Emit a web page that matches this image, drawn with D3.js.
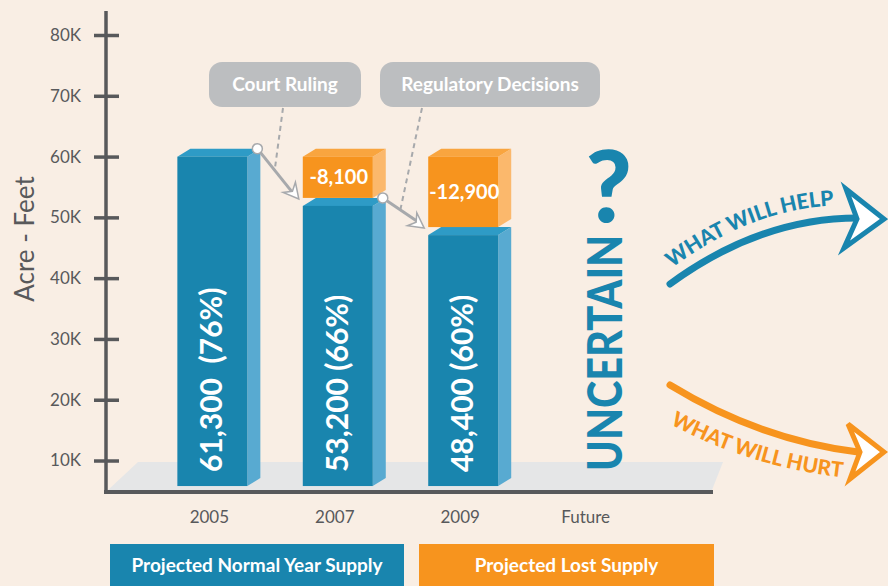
<!DOCTYPE html>
<html lang="en">
<head>
    <meta charset="UTF-8">
    <title>Projected Water Supply</title>
    <script src="https://cdn.jsdelivr.net/npm/d3@7"></script>
    <style>
        body{ margin:0; background:#f9eee4; }
        svg{ display:block; font-family: Lato, "Open Sans", sans-serif; }
    </style>
</head>
<body>
<script>

    // chart values
    const categories = ["2005", "2007", "2009", "Future"]
    const normalSupply = [61300, 53200, 48400]
    const lostSupply = [0, 8100, 12900]
    const normalShare = [76, 66, 60]
    const tickValues = [10000, 20000, 30000, 40000, 50000, 60000, 70000, 80000]
    const tickLabels = ["10K", "20K", "30K", "40K", "50K", "60K", "70K", "80K"]
    const calloutLabels = ["Court Ruling", "Regulatory Decisions"]
    const legendLabels = ["Projected Normal Year Supply", "Projected Lost Supply"]
    const outlookLabels = ["WHAT WILL HELP", "WHAT WILL HURT"]

    const colors = {
        bg: "#f9eee4", axis: "#58595b", floor: "#e5e6e7", callout: "#bcbec0", arrow: "#a7a9ac",
        blue: "#1985ae", blueTop: "#2e9bc6", blueSide: "#58aad1",
        orange: "#f7941e", orangeTop: "#f9a53f", orangeSide: "#fbb86c"
    }

    const svgSize = {width: 888, height: 586}
    const depth = {dx: 13, dy: 8}
    const floorValue = 5800

    const svg = d3.select("body").append("svg")
        .attr("width", svgSize.width)
        .attr("height", svgSize.height)
    svg.append("rect").attr("width", svgSize.width).attr("height", svgSize.height).attr("fill", colors.bg)

    const y = d3.scaleLinear().domain([0, 80000]).range([521.3, 35])
    const x = d3.scaleBand().domain(categories).range([146, 655]).paddingInner(0.442).paddingOuter(0.25)

    // floor
    svg.append("polygon")
        .attr("points", [[138, 462], [723, 462], [712, 490], [108, 490]].join(" "))
        .attr("fill", colors.floor)

    // y axis
    const yAxis = d3.axisLeft(y)
        .tickValues(tickValues)
        .tickFormat((d, i) => tickLabels[i])
        .tickSizeInner(0)
        .tickPadding(25)
    const axisG = svg.append("g").attr("transform", "translate(106,0)").call(yAxis)
    axisG.select(".domain").remove()
    axisG.selectAll(".tick line")
        .attr("x1", -12).attr("x2", 13)
        .attr("stroke", colors.axis).attr("stroke-width", 3.5)
    axisG.selectAll(".tick text")
        .attr("fill", colors.axis).attr("font-size", 17).attr("font-family", "Lato, sans-serif")
    svg.append("line").attr("x1", 106).attr("x2", 106).attr("y1", 11).attr("y2", 494)
        .attr("stroke", colors.axis).attr("stroke-width", 3.5)
    svg.append("line").attr("x1", 104).attr("x2", 713).attr("y1", 492).attr("y2", 492)
        .attr("stroke", colors.axis).attr("stroke-width", 4)

    svg.append("text")
        .attr("transform", "translate(34,239) rotate(-90)")
        .attr("text-anchor", "middle")
        .attr("fill", colors.axis)
        .attr("font-size", 26)
        .text("Acre - Feet")

    // year labels
    svg.selectAll(".year").data(categories).enter().append("text")
        .attr("x", d => x(d) + x.bandwidth() / 2 - 3)
        .attr("y", 523)
        .attr("text-anchor", "middle")
        .attr("fill", colors.axis)
        .attr("font-size", 17)
        .text(d => d)

    // a 3d block: back edges follow the scale, front face shifted down-left
    function block(g, x0, w, backTop, backBottom, front, top, side){
        const {dx, dy} = depth
        g.append("polygon")
            .attr("points", [[x0 + w, backTop + dy], [x0 + w + dx, backTop], [x0 + w + dx, backBottom], [x0 + w, backBottom + dy]].join(" "))
            .attr("fill", side)
        g.append("polygon")
            .attr("points", [[x0, backTop + dy], [x0 + dx, backTop], [x0 + w + dx, backTop], [x0 + w, backTop + dy]].join(" "))
            .attr("fill", top)
        g.append("rect")
            .attr("x", x0).attr("y", backTop + dy)
            .attr("width", w).attr("height", backBottom - backTop)
            .attr("fill", front)
    }

    const fmt = d3.format(",")
    const bw = x.bandwidth()
    const bars = svg.append("g")

    normalSupply.forEach((v, i) => {
        const x0 = x(categories[i])
        block(bars, x0, bw, y(v), y(floorValue) - depth.dy, colors.blue, colors.blueTop, colors.blueSide)
        bars.append("text")
            .attr("transform", `translate(${x0 + bw / 2 + 10},${y(floorValue) - 14}) rotate(-90)`)
            .attr("fill", "white")
            .attr("font-size", 30)
            .attr("font-weight", "bold")
            .attr("xml:space", "preserve")
            .text(fmt(v) + (i === 0 ? "  (" : " (") + normalShare[i] + "%)")

        if (lostSupply[i] > 0) {
            const top = y(v + lostSupply[i])
            block(bars, x0, bw, top, y(v) - depth.dy, colors.orange, colors.orangeTop, colors.orangeSide)
            bars.append("text")
                .attr("x", x0 + bw / 2 + 1)
                .attr("y", (top + depth.dy + y(v)) / 2 + 7)
                .attr("text-anchor", "middle")
                .attr("fill", "white")
                .attr("font-size", 20)
                .attr("font-weight", "bold")
                .text("-" + fmt(lostSupply[i]))
        }
    })

    // callouts with arrows between bars
    const calloutBoxes = [{x: 209, w: 152, dashX: 283}, {x: 380, w: 220, dashX: 422}]
    const ann = svg.append("g")
    calloutLabels.forEach((label, i) => {
        const box = calloutBoxes[i]
        const from = [x(categories[i]) + bw + depth.dx - 3, y(normalSupply[i])]
        const to = [x(categories[i + 1]) - 4, y(normalSupply[i + 1]) + depth.dy - 7]
        const t = 0.42
        const mid = [from[0] + (to[0] - from[0]) * t, from[1] + (to[1] - from[1]) * t]

        ann.append("rect")
            .attr("x", box.x).attr("y", 62).attr("width", box.w).attr("height", 45)
            .attr("rx", 13).attr("fill", colors.callout)
        ann.append("text")
            .attr("x", box.x + box.w / 2).attr("y", 91)
            .attr("text-anchor", "middle")
            .attr("fill", "white").attr("font-size", 19).attr("font-weight", "bold")
            .text(label)
        ann.append("line")
            .attr("x1", box.dashX).attr("y1", 108).attr("x2", mid[0]).attr("y2", mid[1])
            .attr("stroke", colors.arrow).attr("stroke-width", 2).attr("stroke-dasharray", "5,4")

        ann.append("line")
            .attr("x1", from[0]).attr("y1", from[1]).attr("x2", to[0] - 6).attr("y2", to[1] - 6)
            .attr("stroke", colors.arrow).attr("stroke-width", 3)
        const ang = Math.atan2(to[1] - from[1], to[0] - from[0]) * 180 / Math.PI
        ann.append("polygon")
            .attr("points", [[0, 0], [-15, -8], [-10, 0], [-15, 8]].join(" "))
            .attr("transform", `translate(${to[0]},${to[1]}) rotate(${ang})`)
            .attr("fill", "white").attr("stroke", colors.arrow).attr("stroke-width", 1.5)
        ann.append("circle")
            .attr("cx", from[0]).attr("cy", from[1]).attr("r", 5)
            .attr("fill", "white").attr("stroke", colors.arrow).attr("stroke-width", 1.5)
    })

    // future column
    const fx = x("Future") + bw / 2
    svg.append("text")
        .attr("transform", `translate(${fx + 33},471) rotate(-90)`)
        .attr("fill", colors.blue)
        .attr("font-size", 47)
        .attr("font-weight", "900")
        .attr("textLength", 236)
        .attr("lengthAdjust", "spacingAndGlyphs")
        .text("UNCERTAIN")
    svg.append("text")
        .attr("x", fx + 20).attr("y", 222)
        .attr("text-anchor", "middle")
        .attr("fill", colors.blue)
        .attr("font-size", 100)
        .attr("font-weight", "900")
        .text("?")

    // outlook arrows
    const defs = svg.append("defs")
    const outlook = [
        {curve: "M670,284 Q760,218 858,218", textPath: "M672,268 Q758,204 850,205", color: colors.blue,
            head: [[846, 189], [884, 219], [844, 248], [857, 219]]},
        {curve: "M670,385 Q760,440 858,452", textPath: "M670,424 Q752,468 848,478", color: colors.orange,
            head: [[848, 424], [884, 452], [850, 479], [860, 452]]}
    ]
    outlook.forEach((o, i) => {
        defs.append("path").attr("id", "tp" + i).attr("d", o.textPath)
        svg.append("path").attr("d", o.curve)
            .attr("fill", "none").attr("stroke", o.color).attr("stroke-width", 7).attr("stroke-linecap", "round")
        svg.append("polygon").attr("points", o.head.join(" "))
            .attr("fill", "white").attr("stroke", o.color).attr("stroke-width", 5).attr("stroke-linejoin", "miter")
        svg.append("text")
            .attr("fill", o.color).attr("font-size", 21).attr("font-weight", "900")
            .append("textPath").attr("href", "#tp" + i)
            .text(outlookLabels[i])
    })

    // legend
    const legendBoxes = [{x: 110, w: 294, color: colors.blue}, {x: 419, w: 295, color: colors.orange}]
    legendLabels.forEach((label, i) => {
        const b = legendBoxes[i]
        svg.append("rect").attr("x", b.x).attr("y", 544).attr("width", b.w).attr("height", 42).attr("fill", b.color)
        svg.append("text")
            .attr("x", b.x + b.w / 2).attr("y", 572)
            .attr("text-anchor", "middle")
            .attr("fill", "white").attr("font-size", 19).attr("font-weight", "bold")
            .text(label)
    })

</script>
</body>
</html>
